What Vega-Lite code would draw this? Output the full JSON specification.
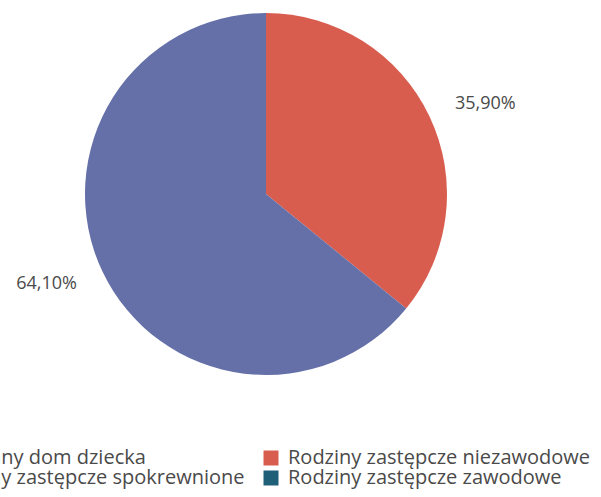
{
  "$schema": "https://vega.github.io/schema/vega-lite/v6.json",
  "width": 532,
  "height": 388,
  "padding": {"left": 0, "top": 0, "right": 69, "bottom": 109},
  "autosize": {"type": "none"},
  "background": "white",
  "config": {"view": {"stroke": null}, "font": "Open Sans"},
  "data": {
    "values": [
      {"kategoria": "Rodziny zastępcze niezawodowe", "procent": 35.9, "etykieta": "35,90%"},
      {"kategoria": "Rodziny zastępcze spokrewnione", "procent": 64.1, "etykieta": "64,10%"}
    ]
  },
  "encoding": {
    "theta": {"field": "procent", "type": "quantitative", "stack": true},
    "order": {"field": "procent", "type": "quantitative", "sort": "ascending"}
  },
  "layer": [
    {
      "mark": {"type": "arc", "outerRadius": 181},
      "encoding": {
        "color": {
          "field": "kategoria",
          "type": "nominal",
          "scale": {
            "domain": ["Rodzinny dom dziecka", "Rodziny zastępcze spokrewnione", "Rodziny zastępcze niezawodowe", "Rodziny zastępcze zawodowe"],
            "range": ["#9fb3c8", "#6570a8", "#d95d4f", "#1f5f78"]
          },
          "legend": {
            "title": null,
            "orient": "none",
            "legendX": -89,
            "legendY": 448,
            "columns": 2,
            "columnPadding": 16,
            "rowPadding": 0,
            "symbolType": "square",
            "symbolSize": 225,
            "symbolStrokeWidth": 0,
            "labelFontSize": 20,
            "labelColor": "#4a4a4a",
            "labelFont": "Open Sans",
            "labelOffset": 7,
            "labelLimit": 0
          }
        }
      }
    },
    {
      "mark": {"type": "text", "radius": 237, "thetaOffset": 0.055, "fontSize": 18, "color": "#4a4a4a", "font": "Open Sans"},
      "encoding": {"text": {"field": "etykieta", "type": "nominal"}}
    }
  ]
}
